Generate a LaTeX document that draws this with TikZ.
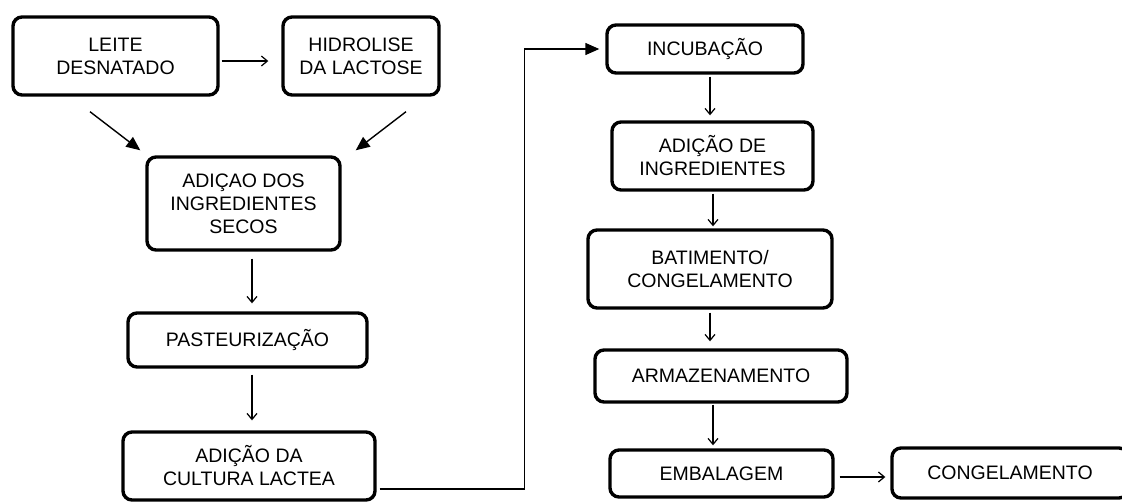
\documentclass[tikz,border=0pt]{standalone}
\usepackage{fontspec}
\setmainfont{Liberation Sans}
\usetikzlibrary{arrows.meta}
\begin{document}
\begin{tikzpicture}[x=1pt,y=-1pt,
  box/.style={draw, line width=3.4pt, rounded corners=9pt, align=center, inner sep=0pt,
    font=\fontsize{19.5}{23}\selectfont},
  arr/.style={-{Straight Barb[length=6pt,width=10pt]}, line width=1.2pt},
  arrF/.style={-{Triangle[length=14pt,width=12pt]}, line width=1.4pt}]
\useasboundingbox (0,0) rectangle (1122,501);
\clip (0,0) rectangle (1122,501);

\node[box, minimum width=205pt, minimum height=78pt] (leite) at (115.5,56) {LEITE\\DESNATADO};
\node[box, minimum width=156pt, minimum height=78pt] (hidro) at (361,56) {HIDROLISE\\DA LACTOSE};
\node[box, minimum width=193pt, minimum height=93pt] (secos) at (243.5,203.5) {ADIÇAO DOS\\INGREDIENTES\\SECOS};
\node[box, minimum width=239pt, minimum height=54pt] (past) at (247.5,340) {PASTEURIZAÇÃO};
\node[box, minimum width=252pt, minimum height=68pt] (cult) at (249,466) {ADIÇÃO DA\\CULTURA LACTEA};
\node[box, minimum width=196pt, minimum height=48pt] (incub) at (705,49) {INCUBAÇÃO};
\node[box, minimum width=201pt, minimum height=68pt] (ingr) at (712.5,156) {ADIÇÃO DE\\INGREDIENTES};
\node[box, minimum width=244pt, minimum height=78pt] (bat) at (710,269) {BATIMENTO/\\CONGELAMENTO};
\node[box, minimum width=252pt, minimum height=52pt] (arm) at (721,376) {ARMAZENAMENTO};
\node[box, minimum width=223pt, minimum height=47pt] (emb) at (721.5,473.5) {EMBALAGEM};
\node[box, minimum width=236pt, minimum height=50pt] (cong) at (1010,473) {CONGELAMENTO};

\draw[arr] ([xshift=2pt,yshift=-5pt]leite.east) -- ([xshift=-13pt,yshift=-5pt]hidro.west);
\draw[arrF] ([xshift=-25.5pt,yshift=-15pt]leite.south) -- ([xshift=-5pt,yshift=5pt]secos.north west);
\draw[arrF] ([xshift=45pt,yshift=-15pt]hidro.south) -- ([xshift=14pt,yshift=5pt]secos.north east);
\draw[arr] ([xshift=8.5pt,yshift=-7pt]secos.south) -- ([xshift=4.5pt,yshift=8pt]past.north);
\draw[arr] ([xshift=4.5pt,yshift=-6pt]past.south) -- ([xshift=3pt,yshift=10pt]cult.north);
\draw[arrF] ([xshift=3pt,yshift=-23pt]cult.east) -- ++(145,0) |- ([xshift=-6pt]incub.west);
\draw[arr] ([xshift=5pt,yshift=-2pt]incub.south) -- ([xshift=-2.5pt,yshift=5pt]ingr.north);
\draw[arr] ([xshift=0.5pt,yshift=-2pt]ingr.south) -- ([xshift=3pt,yshift=2pt]bat.north);
\draw[arr] ([yshift=-3pt]bat.south) -- ([xshift=-11pt,yshift=7pt]arm.north);
\draw[arr] ([xshift=-8pt,yshift=-1pt]arm.south) -- ([xshift=-8.5pt,yshift=3pt]emb.north);
\draw[arr] ([xshift=5pt,yshift=-3.5pt]emb.east) -- ([xshift=-5pt,yshift=-4pt]cong.west);
\end{tikzpicture}
\end{document}
